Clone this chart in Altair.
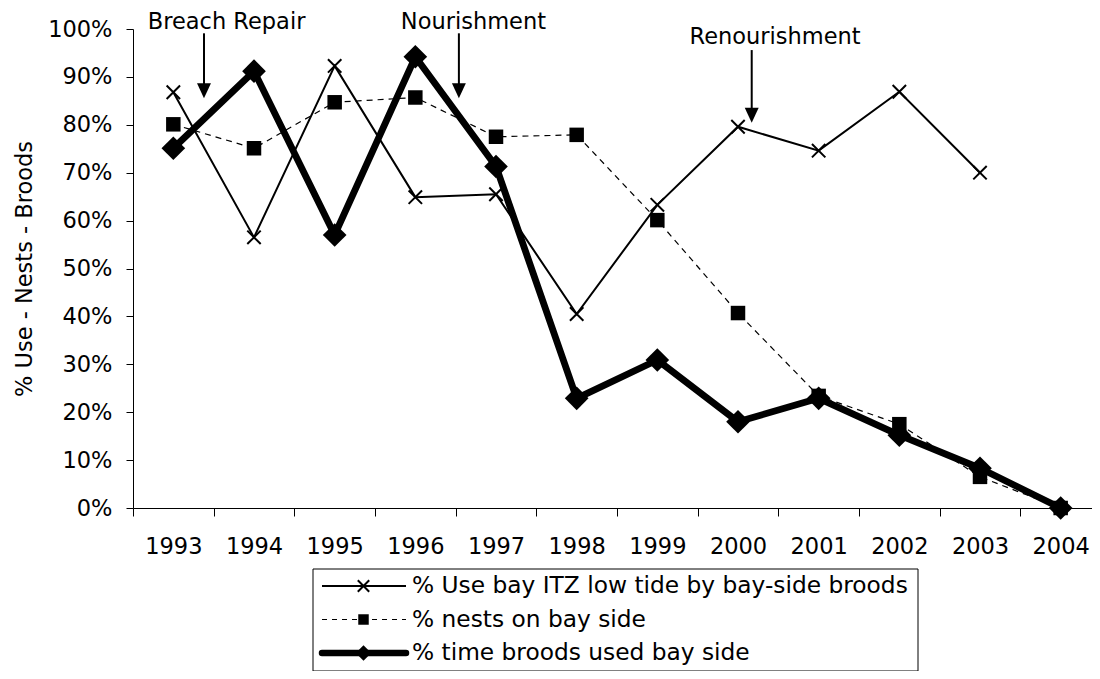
import altair as alt
import pandas as pd

FONT = "DejaVu Sans"

# ---- data ----
years = ["1993", "1994", "1995", "1996", "1997", "1998",
         "1999", "2000", "2001", "2002", "2003", "2004"]
use_itz = [86.8, 56.5, 92.3, 64.9, 65.5, 40.5, 63.3, 79.6, 74.6, 86.9, 70.0, None]
nests = [80.1, 75.1, 84.7, 85.7, 77.5, 77.9, 60.1, 40.7, 23.4, 17.5, 6.5, 0.0]
broods = [75.1, 91.2, 57.0, 94.2, 71.3, 22.9, 30.9, 18.0, 22.9, 15.2, 8.3, 0.0]

series_names = [
    "% Use bay ITZ low tide by bay-side broods",
    "% nests on bay side",
    "% time broods used bay side",
]

annot_labels = ["Breach Repair", "Nourishment", "Renourishment"]
annot_text_x = [1993.66, 1996.72, 2000.46]
annot_text_y = [99.9, 99.9, 96.9]
annot_arrow_x = [1993.38, 1996.54, 2000.17]
annot_arrow_top = [99.1, 99.1, 95.6]
annot_arrow_head = [87.1, 87.1, 82.0]

y_ticks = list(range(0, 101, 10))

# ---- tables ----
rows = []
for name, vals in zip(series_names, [use_itz, nests, broods]):
    for yr, v in zip(years, vals):
        if v is not None:
            rows.append({"year": yr, "pct": v, "series": name})
df = pd.DataFrame(rows)

annot_df = pd.DataFrame({
    "label": annot_labels,
    "tx": annot_text_x,
    "ty": annot_text_y,
    "ax": annot_arrow_x,
    "atop": annot_arrow_top,
    "ahead": annot_arrow_head,
})

XPATH = "M-1,-1L1,1M-1,1L1,-1"
ARROWHEAD = "M-0.93,-1L0.93,-1L0,1Z"
RANGE_X = [0, 968]

x_enc = alt.X(
    "year:O",
    sort=years,
    scale=alt.Scale(type="band", paddingInner=0, paddingOuter=0, range=RANGE_X),
    axis=alt.Axis(title=None, tickBand="extent", labelAngle=0, tickSize=8,
                  labelPadding=19),
)
y_scale = alt.Scale(domain=[0, 100], nice=False)
y_axis = alt.Axis(values=y_ticks, labelExpr="datum.value + '%'", tickSize=7,
                  labelPadding=14, title="% Use - Nests - Broods", titlePadding=11)


def Y(field):
    return alt.Y(field, scale=y_scale, axis=y_axis)


y_enc = Y("pct:Q")

base = alt.Chart(df)


def sel(i):
    return base.transform_filter(alt.datum.series == series_names[i])


l1 = sel(0).mark_line(color="black", strokeWidth=2).encode(x=x_enc, y=y_enc)
p1 = sel(0).mark_point(shape=XPATH, filled=False, color="black", strokeWidth=2,
                       size=180, opacity=1).encode(x=x_enc, y=y_enc)
l2 = sel(1).mark_line(color="black", strokeWidth=1.2, strokeDash=[6, 5]).encode(x=x_enc, y=y_enc)
p2 = sel(1).mark_point(shape="square", filled=True, color="black", size=210,
                       opacity=1).encode(x=x_enc, y=y_enc)
l3 = sel(2).mark_line(color="black", strokeWidth=6.8, strokeJoin="round").encode(x=x_enc, y=y_enc)
p3 = sel(2).mark_point(shape="diamond", filled=True, color="black", size=560,
                       opacity=1).encode(x=x_enc, y=y_enc)

data_layer = alt.layer(l1, p1, l2, p2, l3, p3)

# ---- annotations (own quantitative x scale over the same band extent) ----
ax_scale = alt.Scale(domain=[1992.5, 2004.5], range=RANGE_X, nice=False, zero=False)
abase = alt.Chart(annot_df)
a_text = abase.mark_text(font=FONT, fontSize=22.5, color="black", align="center",
                         baseline="alphabetic").encode(
    x=alt.X("tx:Q", scale=ax_scale, axis=None),
    y=Y("ty:Q"),
    text="label:N",
)
a_rule = abase.mark_rule(color="black", strokeWidth=2).encode(
    x=alt.X("ax:Q", scale=ax_scale, axis=None),
    y=Y("atop:Q"),
    y2="ahead:Q",
)
a_head = abase.mark_point(shape=ARROWHEAD, filled=True, color="black", size=225,
                          opacity=1).encode(
    x=alt.X("ax:Q", scale=ax_scale, axis=None),
    y=Y("ahead:Q"),
)
annot_layer = alt.layer(a_text, a_rule, a_head)

# ---- legend (drawn box) ----
one = alt.Data(values=[{"k": 0}])
leg_box = alt.Chart(one).mark_rect(fill="white", stroke="black", strokeWidth=1).encode(
    x=alt.value(180), x2=alt.value(785), y=alt.value(540), y2=alt.value(642))
row_y = [557, 590.5, 624]
leg_layers = [leg_box]
line_styles = [
    dict(strokeWidth=2),
    dict(strokeWidth=1.2, strokeDash=[5, 5]),
    dict(strokeWidth=6.5, strokeCap="round"),
]
sym_styles = [
    dict(shape=XPATH, filled=False, strokeWidth=2, size=130),
    dict(shape="square", filled=True, size=110),
    dict(shape="diamond", filled=True, size=240),
]
for i, name in enumerate(series_names):
    leg_layers.append(alt.Chart(one).mark_rule(color="black", **line_styles[i]).encode(
        x=alt.value(189), x2=alt.value(273), y=alt.value(row_y[i])))
    leg_layers.append(alt.Chart(one).mark_point(color="black", opacity=1, **sym_styles[i]).encode(
        x=alt.value(230.5), y=alt.value(row_y[i])))
    leg_layers.append(alt.Chart(one).mark_text(font=FONT, fontSize=23.3, color="black",
                                               align="left", baseline="middle").encode(
        x=alt.value(279), y=alt.value(row_y[i]), text=alt.value(name)))

chart = alt.layer(data_layer, annot_layer, *leg_layers).resolve_scale(
    x="independent"
).properties(
    width=959,
    height=479,
    autosize=alt.AutoSizeParams(type="none"),
    padding={"left": 125, "top": 21, "right": 0, "bottom": 163},
).configure_axis(
    labelFont=FONT, labelFontSize=22.5, labelColor="black",
    titleFont=FONT, titleFontSize=22.5, titleFontWeight="normal", titleColor="black",
    domainColor="black", tickColor="black", grid=False,
).configure_view(stroke="transparent")

chart.save("out.html", embed_options={"renderer": "svg", "actions": False})
